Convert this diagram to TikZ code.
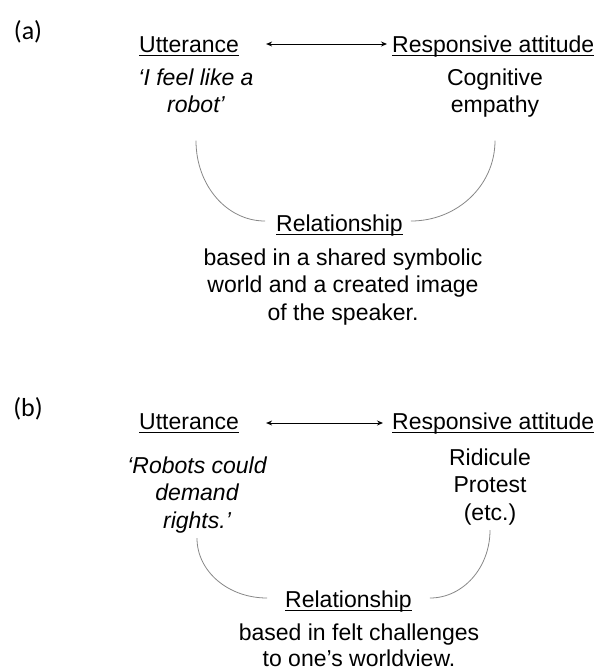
\documentclass[tikz,border=0pt]{standalone}
\usepackage{fontspec}
\setmainfont{Liberation Sans}
\newfontfamily\calib{Carlito}
\usetikzlibrary{arrows.meta}
\newcommand{\myul}[1]{\setbox0=\hbox{#1}\rlap{\rule[-3.6pt]{\wd0}{1.1pt}}\box0}
\newcommand{\mylines}[1]{\begin{tabular}[t]{@{}c@{}}#1\end{tabular}}
\definecolor{arcgray}{RGB}{135,135,135}
\tikzset{
  lbl/.style={font=\calib\fontsize{26}{30}\selectfont, inner sep=0pt},
  hd/.style={font=\fontsize{23}{27.5}\selectfont, inner sep=0pt, anchor=base west},
  rel/.style={font=\fontsize{23}{27.5}\selectfont, inner sep=0pt, anchor=base},
  blk/.style={font=\fontsize{23}{27.5}\selectfont, inner sep=0pt, anchor=base},
  tightblk/.style={font=\fontsize{23}{26}\selectfont, inner sep=0pt, anchor=base},
  qt/.style={font=\fontsize{23}{27.5}\selectfont\itshape, inner sep=0pt, anchor=base},
  arcline/.style={draw=arcgray, line width=0.8pt},
  biarrow/.style={line width=1pt, {Stealth[length=6pt,width=5pt]}-{Stealth[length=6pt,width=5pt]}},
}
\begin{document}
\begin{tikzpicture}[x=1pt,y=-1pt]
\useasboundingbox (0,0) rectangle (596,670);
% ---------- (a) ----------
\node[lbl] (la) at (28,31.5) {(a)};
\node[hd] (ua) at (139,52) {\myul{Utterance}};
\node[hd] (rsa) at (392,52) {\myul{Responsive attitude}};
\node[qt] (qa) at (196,85) {\mylines{‘I feel like a\\robot’}};
\node[blk] (ca) at (495,85) {\mylines{Cognitive\\empathy}};
\node[rel] (ra) at (339.5,231) {\myul{Relationship}};
\node[blk] (ba) at (343,265) {\mylines{based in a shared symbolic\\world and a created image\\of the speaker.}};
\draw[biarrow] ([xshift=27pt,yshift=8pt]ua.base east) -- ([xshift=-5pt,yshift=8pt]rsa.base west);
\draw[arcline] ([yshift=-19.75pt]qa.south) .. controls +(0,45) and +(-38,0) .. ([xshift=-11pt,yshift=10pt]ra.base west);
\draw[arcline] ([yshift=-19.75pt]ca.south) .. controls +(0,45) and +(46,0) .. ([xshift=8pt,yshift=10pt]ra.base east);
% ---------- (b) ----------
\node[lbl] (lb) at (28,408.5) {(b)};
\node[hd] (ub) at (139,429) {\myul{Utterance}};
\node[hd] (rsb) at (392,429) {\myul{Responsive attitude}};
\node[qt] (qb) at (197,473) {\mylines{‘Robots could\\demand\\rights.’}};
\node[blk] (cb) at (490,465) {\mylines{Ridicule\\Protest\\(etc.)}};
\node[rel] (rb) at (348.5,607) {\myul{Relationship}};
\node[tightblk] (bb) at (359,640) {\mylines{based in felt challenges\\to one’s worldview.}};
\draw[biarrow] ([xshift=27pt,yshift=6pt]ub.base east) -- ([xshift=-9pt,yshift=6pt]rsb.base west);
\draw[arcline] ([yshift=-1.75pt]qb.south) .. controls +(0,33) and +(-39,0) .. ([xshift=-18pt,yshift=9pt]rb.base west);
\draw[arcline] ([yshift=-1.75pt]cb.south) .. controls +(0,37.5) and +(33,0) .. ([xshift=18pt,yshift=9pt]rb.base east);
\end{tikzpicture}
\end{document}
